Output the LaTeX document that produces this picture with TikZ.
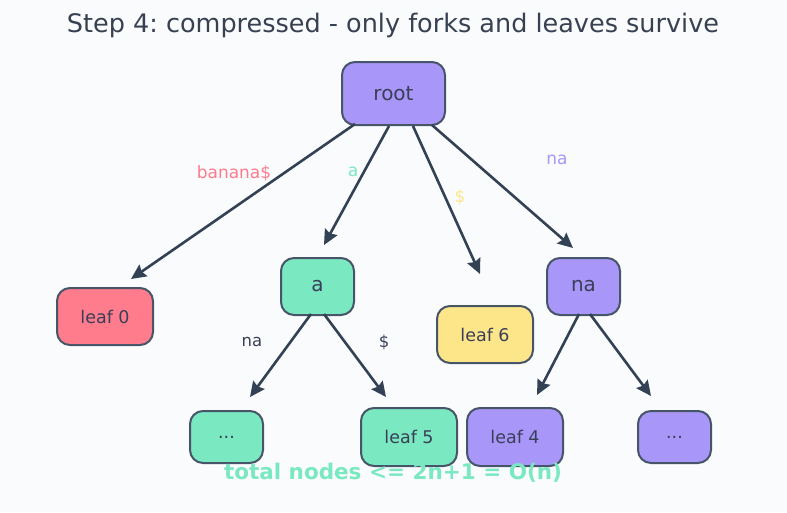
\documentclass[tikz,border=0pt]{standalone}
\usepackage{fontspec}
\setmainfont{DejaVu Sans}
\usetikzlibrary{arrows.meta, calc}
\definecolor{BgGray}{HTML}{FAFBFD}
\definecolor{InkSlate}{HTML}{334155}
\definecolor{EdgeSlate}{HTML}{475569}
\definecolor{TitleGray}{HTML}{374151}
\definecolor{NodePurple}{HTML}{A996F9}
\definecolor{NodeGreen}{HTML}{7AE8C0}
\definecolor{NodeRed}{HTML}{FF7C8D}
\definecolor{NodeYellow}{HTML}{FDE68A}
\definecolor{TextDark}{HTML}{3A3F58}
\frenchspacing

\begin{document}
\begin{tikzpicture}[x=1pt, y=-1pt,
    tnode/.style={draw=EdgeSlate, line width=2pt, rounded corners=13pt,
                  text=TextDark, inner sep=0pt},
    rootbox/.style={tnode, minimum width=103pt, minimum height=63pt,
                    font=\fontsize{20}{24}\selectfont},
    forkbox/.style={tnode, minimum width=73pt, minimum height=57pt,
                    font=\fontsize{20}{24}\selectfont},
    leafbox/.style={tnode, minimum width=96pt, minimum height=57pt,
                    font=\fontsize{17.5}{20}\selectfont},
    dotsbox/.style={tnode, minimum width=73pt, minimum height=52pt,
                    font=\fontsize{17.5}{20}\selectfont},
    edge/.style={-{Stealth[length=15pt, width=14pt, inset=2pt]},
                 InkSlate, line width=2.6pt},
    elabel/.style={font=\fontsize{17}{20}\selectfont, inner sep=0pt},
    ilabel/.style={font=\fontsize{16.5}{20}\selectfont, inner sep=0pt, text=TextDark}]

      % canvas
      \fill[BgGray] (0,0) rectangle (787,512);

      \node[font=\fontsize{25.5}{30}\selectfont, text=TitleGray] (title) at (393,25)
            {Step 4: compressed - only forks and leaves survive};

      % tree nodes
      \node[rootbox, fill=NodePurple] (root) at (393.5,93.5) {root};
      \node[leafbox, fill=NodeRed]    (leafZero) at (105,316.5) {leaf 0};
      \node[forkbox, fill=NodeGreen]  (forkA) at (317.5,286.5) {a};
      \node[leafbox, fill=NodeYellow] (leafSix) at (485,334.5) {leaf 6};
      \node[forkbox, fill=NodePurple] (forkNa) at (583.5,286.5) {na};

      \node[dotsbox, fill=NodeGreen]  (dotsA) at (226.5,437) {...};
      \node[leafbox, fill=NodeGreen, minimum height=58pt]  (leafFive) at (409,437) {leaf 5};
      \node[leafbox, fill=NodePurple, minimum height=58pt] (leafFour) at (515,437) {leaf 4};
      \node[dotsbox, fill=NodePurple] (dotsNa) at (674.5,437) {...};

      % arrow tips stop short of the children
      \coordinate (tipZero) at (131,279);
      \coordinate (tipA)    at (324,245);
      \coordinate (tipSix)  at (480,274);
      \coordinate (tipNa)   at (573,248);
      \coordinate (tipDotsA) at (250,397);
      \coordinate (tipFive)  at (386,397);
      \coordinate (tipFour)  at (537,395);
      \coordinate (tipDotsNa) at (651,396);

      \draw[edge] ($(root.south)+(-38.5,-2)$) -- (tipZero);
      \draw[edge] ($(root.south)+(-4.5,0)$)   -- (tipA);
      \draw[edge] ($(root.south)+(19.5,0)$)   -- (tipSix);
      \draw[edge] ($(root.south)+(38.5,-1)$)  -- (tipNa);
      \draw[edge] ($(forkA.south)+(-6.5,-2)$) -- (tipDotsA);
      \draw[edge] ($(forkA.south)+(6.5,-2)$)  -- (tipFive);
      \draw[edge] ($(forkNa.south)+(-4.5,-2)$) -- (tipFour);
      \draw[edge] ($(forkNa.south)+(6.5,-2)$)  -- (tipDotsNa);

      % edge labels
      \node[elabel, text=NodeRed]    (lblBanana) at (234,173) {banana\$};
      \node[elabel, text=NodeGreen]  (lblA)      at (353,172) {a};
      \node[elabel, text=NodeYellow] (lblDollar) at (460,197) {\$};
      \node[elabel, text=NodePurple] (lblNa)     at (557,160) {na};
      \node[ilabel] (lblANa)     at (252,342) {na};
      \node[ilabel] (lblADollar) at (384,342) {\$};

      \node[font=\bfseries\fontsize{21.5}{26}\selectfont, text=NodeGreen] (total) at (393,473)
            {total nodes <= 2n+1 = O(n)};
\end{tikzpicture}
\end{document}
